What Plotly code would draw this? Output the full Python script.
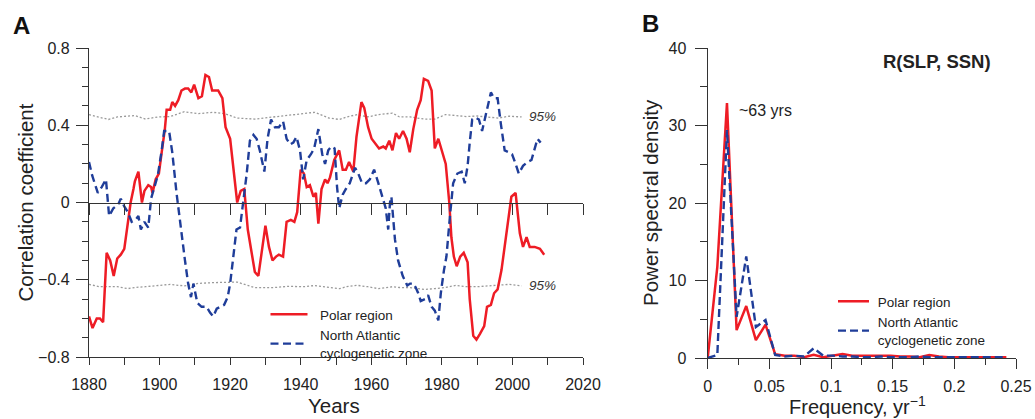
import plotly.graph_objects as go

# ---------------- Panel A: running correlation R(SLP, SSN) ----------------
polar_years = [
    1880.0, 1881.0, 1882.2, 1883.1, 1884.0, 1885.0, 1886.0, 1887.0, 1888.0, 1889.0,
    1890.0, 1891.0, 1891.8, 1892.6, 1893.0, 1894.0, 1895.0, 1895.7, 1896.8, 1897.6,
    1898.0, 1898.9, 1899.8, 1900.6, 1901.5, 1902.0, 1903.0, 1903.6, 1904.4, 1905.3,
    1906.2, 1907.2, 1908.1, 1909.0, 1909.8, 1911.0, 1912.0, 1913.0, 1914.0, 1914.9,
    1916.6, 1917.8, 1918.7, 1920.0, 1920.9, 1922.0, 1923.0, 1924.0, 1925.0, 1926.1,
    1927.0, 1928.0, 1929.0, 1930.0, 1931.0, 1932.0, 1933.0, 1933.8, 1935.0, 1936.0,
    1937.2, 1938.2, 1939.0, 1940.0, 1940.9, 1941.7, 1942.6, 1943.6, 1944.3, 1945.0,
    1945.9, 1946.9, 1947.6, 1948.3, 1949.5, 1950.9, 1951.9, 1952.8, 1953.7, 1954.9,
    1955.8, 1957.2, 1958.0, 1959.1, 1960.1, 1961.3, 1962.2, 1963.4, 1964.1, 1965.1,
    1966.0, 1967.0, 1967.9, 1969.0, 1970.0, 1970.9, 1971.9, 1973.0, 1974.0, 1974.9,
    1976.1, 1977.1, 1978.0, 1979.0, 1980.1, 1981.1, 1982.1, 1982.7, 1983.4, 1984.2,
    1985.2, 1986.2, 1987.3, 1987.9, 1988.9, 1989.8, 1990.8, 1992.0, 1992.8, 1993.9,
    1994.8, 1995.8, 1996.9, 1997.8, 1998.8, 1999.7, 2000.9, 2001.4, 2002.1, 2003.0,
    2004.0, 2004.9, 2006.3, 2007.8, 2009.0,
]
polar_corr = [
    -0.59, -0.65, -0.60, -0.60, -0.62, -0.26, -0.30, -0.38, -0.29, -0.27,
    -0.24, -0.10, 0.00, 0.07, 0.11, 0.16, 0.00, 0.06, 0.09, 0.08,
    0.05, 0.12, 0.15, 0.26, 0.38, 0.48, 0.48, 0.52, 0.50, 0.53,
    0.58, 0.59, 0.59, 0.57, 0.61, 0.54, 0.55, 0.66, 0.65, 0.58,
    0.58, 0.54, 0.39, 0.33, 0.17, 0.00, 0.06, 0.07, -0.14, -0.26,
    -0.36, -0.38, -0.26, -0.12, -0.23, -0.30, -0.28, -0.27, -0.28, -0.10,
    -0.09, -0.10, -0.05, 0.17, 0.15, 0.08, 0.09, 0.03, 0.05, -0.11,
    0.07, 0.12, 0.10, 0.13, 0.22, 0.27, 0.17, 0.17, 0.21, 0.16,
    0.34, 0.52, 0.49, 0.39, 0.33, 0.30, 0.28, 0.29, 0.28, 0.32,
    0.27, 0.36, 0.33, 0.37, 0.33, 0.26, 0.38, 0.48, 0.53, 0.64,
    0.63, 0.58, 0.28, 0.33, 0.26, 0.20, 0.00, -0.18, -0.28, -0.33,
    -0.28, -0.26, -0.31, -0.50, -0.69, -0.71, -0.68, -0.64, -0.54, -0.53,
    -0.47, -0.45, -0.35, -0.23, -0.10, 0.03, 0.05, -0.05, -0.16, -0.23,
    -0.18, -0.23, -0.23, -0.24, -0.27,
]

atlantic_years = [
    1880.0, 1880.9, 1882.5, 1883.6, 1884.8, 1885.7, 1886.9, 1888.3, 1889.0, 1890.0,
    1891.0, 1892.1, 1893.2, 1894.0, 1894.7, 1895.7, 1896.8, 1897.6, 1898.7, 1899.5,
    1900.6, 1901.3, 1902.7, 1903.6, 1904.8, 1906.2, 1907.2, 1908.1, 1908.9, 1909.6,
    1910.7, 1911.9, 1913.3, 1914.3, 1915.2, 1916.2, 1917.4, 1918.3, 1919.3, 1920.0,
    1920.9, 1921.8, 1922.8, 1923.7, 1924.7, 1925.6, 1926.6, 1927.5, 1928.4, 1929.7,
    1930.6, 1931.6, 1932.7, 1933.8, 1935.0, 1936.0, 1937.0, 1937.9, 1938.8, 1939.8,
    1940.7, 1941.7, 1942.9, 1943.8, 1945.0, 1946.1, 1946.9, 1947.8, 1948.7, 1949.6,
    1950.3, 1950.9, 1951.9, 1952.8, 1953.9, 1955.4, 1956.3, 1957.4, 1958.5, 1959.6,
    1960.8, 1962.0, 1963.2, 1964.1, 1964.8, 1965.3, 1965.7, 1966.2, 1966.7, 1967.6,
    1968.9, 1970.2, 1971.0, 1971.9, 1972.6, 1973.3, 1974.0, 1975.2, 1976.1, 1977.1,
    1978.0, 1979.0, 1979.7, 1980.6, 1981.3, 1982.3, 1983.2, 1984.4, 1985.6, 1986.5,
    1987.3, 1987.9, 1988.6, 1989.5, 1990.5, 1991.4, 1992.4, 1993.1, 1993.9, 1994.8,
    1995.8, 1996.7, 1997.8, 1999.0, 1999.9, 2000.9, 2001.8, 2003.0, 2004.3, 2005.4,
    2006.2, 2007.1, 2008.0,
]
atlantic_corr = [
    0.21, 0.14, 0.05, 0.08, 0.12, -0.07, -0.03, -0.01, 0.02, -0.02,
    -0.05, -0.10, -0.09, -0.07, -0.14, -0.10, -0.13, 0.02, 0.09, 0.14,
    0.27, 0.37, 0.37, 0.26, 0.05, -0.17, -0.30, -0.42, -0.49, -0.42,
    -0.52, -0.54, -0.54, -0.57, -0.59, -0.55, -0.54, -0.53, -0.49, -0.42,
    -0.28, -0.14, -0.13, 0.00, 0.15, 0.32, 0.35, 0.33, 0.27, 0.16,
    0.33, 0.43, 0.39, 0.39, 0.42, 0.33, 0.30, 0.31, 0.34, 0.27,
    0.12, 0.22, 0.25, 0.28, 0.38, 0.25, 0.20, 0.27, 0.29, 0.28,
    0.08, -0.03, 0.04, 0.07, 0.10, 0.18, 0.15, 0.10, 0.10, 0.12,
    0.17, 0.10, 0.03, -0.03, -0.14, 0.00, 0.03, -0.09, -0.19, -0.30,
    -0.38, -0.43, -0.42, -0.42, -0.44, -0.47, -0.51, -0.50, -0.48, -0.54,
    -0.56, -0.61, -0.47, -0.35, -0.28, -0.07, 0.10, 0.15, 0.16, 0.10,
    0.19, 0.31, 0.43, 0.44, 0.43, 0.37, 0.45, 0.52, 0.57, 0.54,
    0.54, 0.41, 0.27, 0.26, 0.25, 0.20, 0.15, 0.19, 0.21, 0.22,
    0.27, 0.33, 0.31,
]

# 95% significance levels (slightly varying with the window)
sig_years = [
    1880, 1883, 1885.5, 1888, 1891, 1893, 1896, 1899.5, 1903, 1907, 1911, 1915,
    1918.5, 1922, 1927, 1932, 1936.5, 1941, 1944, 1948, 1951, 1953, 1956, 1959,
    1962, 1966, 1968, 1971, 1975, 1978, 1981, 1984, 1987, 1990, 1993, 1996,
    1999, 2002.6,
]
sig_upper = [
    0.455, 0.443, 0.430, 0.443, 0.448, 0.450, 0.432, 0.443, 0.445, 0.470, 0.460, 0.467,
    0.460, 0.437, 0.432, 0.443, 0.450, 0.460, 0.467, 0.437, 0.430, 0.443, 0.455, 0.443,
    0.455, 0.463, 0.443, 0.443, 0.432, 0.432, 0.455, 0.450, 0.445, 0.448, 0.443, 0.437,
    0.447, 0.443,
]
sig_lower = [
    -0.424, -0.436, -0.436, -0.436, -0.446, -0.440, -0.436, -0.430, -0.424, -0.432, -0.419, -0.415,
    -0.415, -0.412, -0.441, -0.441, -0.434, -0.436, -0.430, -0.441, -0.446, -0.436, -0.429, -0.436,
    -0.446, -0.436, -0.440, -0.441, -0.450, -0.446, -0.440, -0.429, -0.436, -0.436, -0.432, -0.430,
    -0.424, -0.432,
]

# ---------------- Panel B: power spectra ----------------
freq = [k / 128 for k in range(32)]
polar_psd = [
    0.0, 11.8, 32.9, 3.6, 6.7, 2.3, 4.3, 0.5, 0.3, 0.3,
    0.1, 0.4, 0.1, 0.3, 0.5, 0.3, 0.3, 0.3, 0.3, 0.3,
    0.2, 0.2, 0.1, 0.4, 0.2, 0.1, 0.1, 0.1, 0.1, 0.1,
    0.1, 0.1,
]
atlantic_psd = [
    0.0, 0.4, 29.4, 5.3, 13.1, 4.0, 4.9, 0.4, 0.2, 0.3,
    0.2, 1.25, 0.3, 0.3, 0.2, 0.2, 0.1, 0.1, 0.2, 0.1,
    0.1, 0.1, 0.2, 0.1, 0.1, 0.1, 0.1, 0.1, 0.1, 0.1,
    0.1, 0.1,
]

# ---------------- styling ----------------
W, H = 1035, 419
FONT = "Arial, 'Liberation Sans', Helvetica, sans-serif"
RED = "#ee1c25"
BLUE = "#1f3d99"
GREY = "#9a9a9a"
AXC = "#333333"
TXT = "#222222"


def fx(px):
    return px / W


def fy(px):
    return 1 - px / H


A_X = [fx(89), fx(583)]
A_Y = [fy(357), fy(48)]
B_X = [fx(707.7), fx(1016)]
B_Y = [fy(358), fy(48)]

fig = go.Figure()

for yv in (sig_upper, sig_lower):
    fig.add_trace(go.Scatter(
        x=sig_years, y=yv, mode="lines", showlegend=False, hoverinfo="skip",
        line=dict(color=GREY, width=1.3, dash="2px,2px"),
        xaxis="x", yaxis="y",
    ))

fig.add_trace(go.Scatter(
    x=polar_years, y=polar_corr, mode="lines", name="\u00a0\u00a0Polar region",
    line=dict(color=RED, width=2.5), xaxis="x", yaxis="y", legend="legend",
))
fig.add_trace(go.Scatter(
    x=atlantic_years, y=atlantic_corr, mode="lines",
    name="\u00a0\u00a0North Atlantic<br>\u00a0\u00a0cyclogenetic zone",
    line=dict(color=BLUE, width=2.4, dash="8px,4.5px"), xaxis="x", yaxis="y", legend="legend",
))
# carrier for the zero-line axis with ticks
fig.add_trace(go.Scatter(
    x=[1880, 2020], y=[None, None], mode="lines", showlegend=False, hoverinfo="skip",
    xaxis="x2", yaxis="y",
))

fig.add_trace(go.Scatter(
    x=freq, y=polar_psd, mode="lines", name="\u00a0Polar region",
    line=dict(color=RED, width=2.5), xaxis="x3", yaxis="y3", legend="legend2",
))
fig.add_trace(go.Scatter(
    x=freq, y=atlantic_psd, mode="lines",
    name="\u00a0North Atlantic<br>\u00a0cyclogenetic zone",
    line=dict(color=BLUE, width=2.4, dash="8px,4px"), xaxis="x3", yaxis="y3", legend="legend2",
))

tickfont = dict(family=FONT, size=16, color=TXT)
common = dict(showgrid=False, zeroline=False, showline=True, linecolor=AXC, linewidth=1.3,
              ticks="outside", tickcolor=AXC, tickwidth=1.2, tickfont=tickfont,
              automargin=False)

fig.update_layout(
    width=W, height=H,
    autosize=False,
    margin=dict(l=0, r=0, t=0, b=0, pad=0, autoexpand=False),
    paper_bgcolor="white", plot_bgcolor="white",
    font=dict(family=FONT, color=TXT),
    xaxis=dict(domain=A_X, range=[1880, 2020], anchor="y", tick0=1880, dtick=20, ticklen=7,
               ticklabelstandoff=6,
               minor=dict(dtick=10, ticks="outside", ticklen=7, tickcolor=AXC, tickwidth=1.2),
               **common),
    yaxis=dict(domain=A_Y, range=[-0.8, 0.8], anchor="x", tick0=0, dtick=0.4, ticklen=12,
               ticklabelstandoff=3,
               minor=dict(dtick=0.1, ticks="outside", ticklen=6, tickcolor=AXC, tickwidth=1.2),
               **common),
    xaxis2=dict(overlaying="x", anchor="free", position=(A_Y[0] + A_Y[1]) / 2,
                range=[1880, 2020], tick0=1880, dtick=10, showticklabels=False,
                ticks="outside", ticklen=11, tickcolor=AXC, tickwidth=1.2, automargin=False,
                showline=True, linecolor=AXC, linewidth=1.3, showgrid=False, zeroline=False),
    xaxis3=dict(domain=B_X, range=[0, 0.25], anchor="y3", tick0=0, dtick=0.05, ticklen=10,
                ticklabelstandoff=4,
                minor=dict(dtick=0.025, ticks="outside", ticklen=6, tickcolor=AXC, tickwidth=1.2),
                **common),
    yaxis3=dict(domain=B_Y, range=[0, 40], anchor="x3", tick0=0, dtick=10, ticklen=12,
                ticklabelstandoff=5,
                minor=dict(dtick=5, ticks="outside", ticklen=7, tickcolor=AXC, tickwidth=1.2),
                **common),
    legend=dict(x=fx(265.5), y=fy(299), xanchor="left", yanchor="top", bgcolor="rgba(0,0,0,0)",
                itemwidth=37, font=dict(family=FONT, size=13.5, color=TXT), tracegroupgap=0),
    legend2=dict(x=fx(833), y=fy(286), xanchor="left", yanchor="top", bgcolor="rgba(0,0,0,0)",
                 itemwidth=31, font=dict(family=FONT, size=13.5, color=TXT), tracegroupgap=0),
    showlegend=True,
)


def label(text, px, py, size, angle=0, bold=False, italic=False, color=TXT):
    if bold:
        text = "<b>" + text + "</b>"
    if italic:
        text = "<i>" + text + "</i>"
    return dict(text=text, x=fx(px), y=fy(py), xref="paper", yref="paper",
                xanchor="center", yanchor="middle", textangle=angle, showarrow=False,
                font=dict(family=FONT, size=size, color=color))


ann = [
    label("A", 21, 25, 24, bold=True, color="#111"),
    label("B", 650, 24, 24, bold=True, color="#111"),
    label("Years", 334, 405, 20.5),
    label("Correlation coefficient", 25, 202.5, 20.5, angle=-90),
    label("Frequency, yr<sup>\u22121</sup>", 857, 405, 20),
    label("Power spectral density", 651, 203, 20.5, angle=-90),
]
# significance labels
for yv in (sig_upper, sig_lower):
    ann.append(dict(text="<i>95%</i>", x=2004, y=yv[-1], xref="x", yref="y",
                    xanchor="left", yanchor="middle", showarrow=False,
                    font=dict(family=FONT, size=13.5, color="#333")))
# panel B texts
ann.append(dict(text="~63 yrs", x=0.0238, y=32.0, xref="x3", yref="y3", xanchor="left",
                yanchor="middle", showarrow=False, font=dict(family=FONT, size=16, color=TXT)))
ann.append(dict(text="<b>R(SLP, SSN)</b>", x=0.186, y=38.2, xref="x3", yref="y3",
                xanchor="center", yanchor="middle", showarrow=False,
                font=dict(family=FONT, size=18.5, color=TXT)))

fig.update_layout(annotations=ann)

fig.write_html("out.html")
